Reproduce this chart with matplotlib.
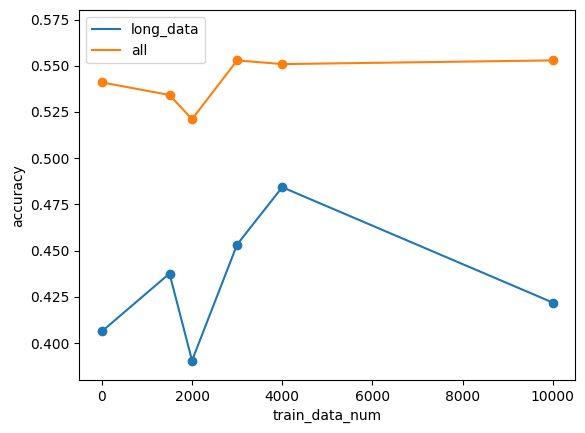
import matplotlib
matplotlib.use('Agg')
import matplotlib.pyplot as plt

train_data_num = [0, 1500, 2000, 3000, 4000, 10000]
long_data = [0.4063, 0.4376, 0.3905, 0.4533, 0.4843, 0.4219]
all_data = [0.5410, 0.5342, 0.5211, 0.5529, 0.5509, 0.5529]

fig = plt.figure(figsize=(5.85, 4.33), dpi=100)
ax = fig.add_axes([0.1356, 0.1224, 0.8478, 0.8538])

ax.plot(train_data_num, long_data, label='long_data', color='C0')
ax.scatter(train_data_num, long_data, color='C0')
ax.plot(train_data_num, all_data, label='all', color='C1')
ax.scatter(train_data_num, all_data, color='C1')

ax.set_ylim(0.38, 0.58)
ax.set_xlabel('train_data_num')
ax.set_ylabel('accuracy')
ax.legend(loc='upper left')

fig.savefig('out.png', dpi=100)
